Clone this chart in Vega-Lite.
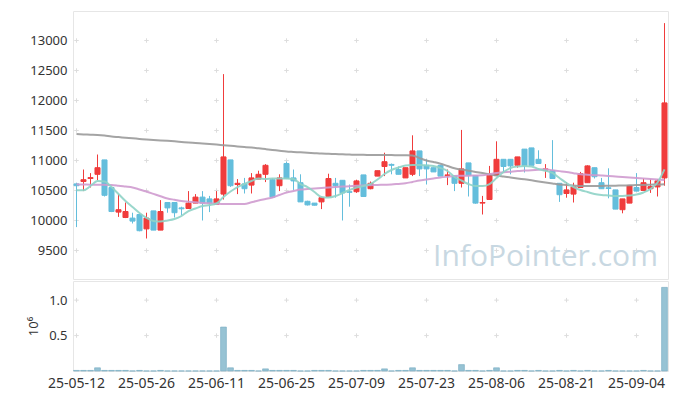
{
  "$schema": "https://vega.github.io/schema/vega-lite/v6.json",
  "background": "white",
  "padding": {"left": 27, "top": 10, "right": 9, "bottom": 5},
  "spacing": 0,
  "config": {
    "font": "Noto Sans",
    "view": {"stroke": "#e6e6e6"},
    "axis": {"labelColor": "#333333", "labelFontSize": 13, "labelFont": "Noto Sans", "grid": false, "domain": false, "ticks": false, "labelOverlap": false}
  },
  "datasets": {
    "ohlc": [
      {"d":"25-05-12","o":10610,"h":10630,"l":9890,"c":10580,"v":8000,"m5":10503,"m20":10603,"m60":11440},
      {"d":"25-05-13","o":10650,"h":10850,"l":10490,"c":10680,"v":8000,"m5":10503,"m20":10600,"m60":11435},
      {"d":"25-05-14","o":10700,"h":10790,"l":10550,"c":10715,"v":8000,"m5":10575,"m20":10598,"m60":11430},
      {"d":"25-05-15","o":10770,"h":11100,"l":10670,"c":10880,"v":45000,"m5":10658,"m20":10596,"m60":11425},
      {"d":"25-05-16","o":11010,"h":11010,"l":10400,"c":10420,"v":8000,"m5":10650,"m20":10594,"m60":11415},
      {"d":"25-05-19","o":10550,"h":10560,"l":10140,"c":10150,"v":8000,"m5":10558,"m20":10592,"m60":11400},
      {"d":"25-05-20","o":10140,"h":10440,"l":10060,"c":10180,"v":8000,"m5":10442,"m20":10580,"m60":11390},
      {"d":"25-05-21","o":10050,"h":10300,"l":10040,"c":10150,"v":8000,"m5":10325,"m20":10565,"m60":11380},
      {"d":"25-05-22","o":10040,"h":10130,"l":9950,"c":9990,"v":1000,"m5":10225,"m20":10550,"m60":11370},
      {"d":"25-05-23","o":10100,"h":10110,"l":9820,"c":9830,"v":8000,"m5":10125,"m20":10517,"m60":11360},
      {"d":"25-05-26","o":9860,"h":10130,"l":9700,"c":10040,"v":1000,"m5":10042,"m20":10483,"m60":11350},
      {"d":"25-05-27","o":10160,"h":10160,"l":9840,"c":9840,"v":1000,"m5":9992,"m20":10444,"m60":11342},
      {"d":"25-05-28","o":9840,"h":10340,"l":9840,"c":10150,"v":8000,"m5":9983,"m20":10405,"m60":11335},
      {"d":"25-05-29","o":10300,"h":10300,"l":10130,"c":10210,"v":1000,"m5":10000,"m20":10367,"m60":11328},
      {"d":"25-05-30","o":10300,"h":10300,"l":10050,"c":10130,"v":1000,"m5":10025,"m20":10346,"m60":11320},
      {"d":"25-06-02","o":10210,"h":10230,"l":10090,"c":10195,"v":1000,"m5":10075,"m20":10325,"m60":11310},
      {"d":"25-06-04","o":10200,"h":10490,"l":10200,"c":10290,"v":1000,"m5":10158,"m20":10314,"m60":11300},
      {"d":"25-06-05","o":10290,"h":10440,"l":10290,"c":10390,"v":1000,"m5":10200,"m20":10303,"m60":11292},
      {"d":"25-06-09","o":10390,"h":10490,"l":10000,"c":10290,"v":1000,"m5":10242,"m20":10292,"m60":11283},
      {"d":"25-06-10","o":10360,"h":10410,"l":10140,"c":10290,"v":1000,"m5":10258,"m20":10286,"m60":11274},
      {"d":"25-06-11","o":10270,"h":10490,"l":10270,"c":10360,"v":1000,"m5":10283,"m20":10280,"m60":11265},
      {"d":"25-06-12","o":10440,"h":12440,"l":10350,"c":11060,"v":620000,"m5":10392,"m20":10275,"m60":11255},
      {"d":"25-06-13","o":11010,"h":11010,"l":10560,"c":10580,"v":45000,"m5":10483,"m20":10275,"m60":11245},
      {"d":"25-06-16","o":10600,"h":10690,"l":10440,"c":10620,"v":8000,"m5":10558,"m20":10275,"m60":11235},
      {"d":"25-06-17","o":10610,"h":10710,"l":10450,"c":10530,"v":8000,"m5":10608,"m20":10275,"m60":11225},
      {"d":"25-06-18","o":10590,"h":10790,"l":10450,"c":10710,"v":8000,"m5":10658,"m20":10304,"m60":11215},
      {"d":"25-06-19","o":10690,"h":10830,"l":10690,"c":10770,"v":1000,"m5":10700,"m20":10333,"m60":11203},
      {"d":"25-06-20","o":10770,"h":10940,"l":10640,"c":10920,"v":30000,"m5":10692,"m20":10358,"m60":11190},
      {"d":"25-06-23","o":10680,"h":10700,"l":10380,"c":10390,"v":8000,"m5":10700,"m20":10383,"m60":11177},
      {"d":"25-06-24","o":10580,"h":10770,"l":10490,"c":10710,"v":8000,"m5":10700,"m20":10425,"m60":11163},
      {"d":"25-06-25","o":10950,"h":10980,"l":10690,"c":10700,"v":8000,"m5":10700,"m20":10467,"m60":11150},
      {"d":"25-06-26","o":10710,"h":10850,"l":10510,"c":10660,"v":8000,"m5":10692,"m20":10492,"m60":11143},
      {"d":"25-06-27","o":10630,"h":10770,"l":10310,"c":10310,"v":1000,"m5":10608,"m20":10517,"m60":11136},
      {"d":"25-06-30","o":10320,"h":10330,"l":10250,"c":10260,"v":1000,"m5":10558,"m20":10525,"m60":11129},
      {"d":"25-07-01","o":10290,"h":10290,"l":10250,"c":10255,"v":8000,"m5":10475,"m20":10534,"m60":11122},
      {"d":"25-07-02","o":10310,"h":10400,"l":10190,"c":10380,"v":8000,"m5":10392,"m20":10542,"m60":11115},
      {"d":"25-07-03","o":10400,"h":10780,"l":10400,"c":10700,"v":8000,"m5":10383,"m20":10550,"m60":11111},
      {"d":"25-07-04","o":10620,"h":10710,"l":10380,"c":10580,"v":1000,"m5":10408,"m20":10557,"m60":11107},
      {"d":"25-07-07","o":10670,"h":10670,"l":10000,"c":10460,"v":1000,"m5":10458,"m20":10565,"m60":11103},
      {"d":"25-07-08","o":10480,"h":10600,"l":10230,"c":10470,"v":1000,"m5":10508,"m20":10572,"m60":11099},
      {"d":"25-07-09","o":10480,"h":10680,"l":10460,"c":10660,"v":1000,"m5":10550,"m20":10580,"m60":11095},
      {"d":"25-07-10","o":10760,"h":10760,"l":10400,"c":10400,"v":8000,"m5":10575,"m20":10584,"m60":11094},
      {"d":"25-07-11","o":10530,"h":10650,"l":10520,"c":10620,"v":8000,"m5":10608,"m20":10588,"m60":11093},
      {"d":"25-07-14","o":10740,"h":10830,"l":10740,"c":10830,"v":8000,"m5":10683,"m20":10592,"m60":11092},
      {"d":"25-07-15","o":10900,"h":11130,"l":10740,"c":10980,"v":30000,"m5":10775,"m20":10596,"m60":11091},
      {"d":"25-07-16","o":10935,"h":10950,"l":10770,"c":10920,"v":1000,"m5":10842,"m20":10600,"m60":11090},
      {"d":"25-07-17","o":10850,"h":10900,"l":10770,"c":10770,"v":8000,"m5":10883,"m20":10610,"m60":11088},
      {"d":"25-07-18","o":10710,"h":10880,"l":10710,"c":10880,"v":8000,"m5":10917,"m20":10620,"m60":11087},
      {"d":"25-07-21","o":10770,"h":11420,"l":10740,"c":11160,"v":45000,"m5":10925,"m20":10643,"m60":11085},
      {"d":"25-07-22","o":11160,"h":11160,"l":10740,"c":10860,"v":8000,"m5":10925,"m20":10667,"m60":11040},
      {"d":"25-07-23","o":10920,"h":11020,"l":10600,"c":10860,"v":8000,"m5":10917,"m20":10684,"m60":11000},
      {"d":"25-07-24","o":10880,"h":10880,"l":10810,"c":10810,"v":8000,"m5":10908,"m20":10700,"m60":10975},
      {"d":"25-07-25","o":10920,"h":10920,"l":10740,"c":10740,"v":8000,"m5":10875,"m20":10717,"m60":10947},
      {"d":"25-07-28","o":10750,"h":10850,"l":10590,"c":10760,"v":8000,"m5":10825,"m20":10730,"m60":10908},
      {"d":"25-07-29","o":10740,"h":10740,"l":10490,"c":10620,"v":1000,"m5":10725,"m20":10742,"m60":10870},
      {"d":"25-07-30","o":10620,"h":11510,"l":10550,"c":10860,"v":90000,"m5":10667,"m20":10745,"m60":10850},
      {"d":"25-07-31","o":10960,"h":10960,"l":10400,"c":10750,"v":8000,"m5":10608,"m20":10747,"m60":10830},
      {"d":"25-08-01","o":10750,"h":10750,"l":10280,"c":10290,"v":8000,"m5":10575,"m20":10750,"m60":10810},
      {"d":"25-08-04","o":10290,"h":10410,"l":10100,"c":10300,"v":1000,"m5":10575,"m20":10753,"m60":10790},
      {"d":"25-08-05","o":10350,"h":10910,"l":10350,"c":10760,"v":8000,"m5":10608,"m20":10772,"m60":10770},
      {"d":"25-08-06","o":10750,"h":11320,"l":10750,"c":11020,"v":45000,"m5":10708,"m20":10792,"m60":10750},
      {"d":"25-08-07","o":11020,"h":11020,"l":10800,"c":10900,"v":1000,"m5":10808,"m20":10803,"m60":10734},
      {"d":"25-08-08","o":11020,"h":11020,"l":10770,"c":10910,"v":1000,"m5":10875,"m20":10814,"m60":10718},
      {"d":"25-08-11","o":10920,"h":11060,"l":10880,"c":11060,"v":8000,"m5":10900,"m20":10825,"m60":10702},
      {"d":"25-08-12","o":11190,"h":11190,"l":10800,"c":10920,"v":8000,"m5":10908,"m20":10832,"m60":10686},
      {"d":"25-08-13","o":11210,"h":11210,"l":10920,"c":10920,"v":1000,"m5":10900,"m20":10839,"m60":10670},
      {"d":"25-08-14","o":11020,"h":11170,"l":10950,"c":10950,"v":8000,"m5":10858,"m20":10846,"m60":10652},
      {"d":"25-08-18","o":10840,"h":10940,"l":10710,"c":10860,"v":1000,"m5":10830,"m20":10853,"m60":10635},
      {"d":"25-08-19","o":10830,"h":11340,"l":10700,"c":10700,"v":1000,"m5":10792,"m20":10838,"m60":10617},
      {"d":"25-08-20","o":10620,"h":10620,"l":10310,"c":10430,"v":8000,"m5":10708,"m20":10823,"m60":10600},
      {"d":"25-08-21","o":10450,"h":10640,"l":10380,"c":10510,"v":1000,"m5":10625,"m20":10808,"m60":10592},
      {"d":"25-08-22","o":10440,"h":10630,"l":10300,"c":10560,"v":8000,"m5":10558,"m20":10789,"m60":10583},
      {"d":"25-08-25","o":10550,"h":10810,"l":10550,"c":10780,"v":1000,"m5":10508,"m20":10770,"m60":10575},
      {"d":"25-08-26","o":10630,"h":10920,"l":10630,"c":10910,"v":8000,"m5":10475,"m20":10763,"m60":10575},
      {"d":"25-08-27","o":10880,"h":10880,"l":10700,"c":10730,"v":1000,"m5":10442,"m20":10756,"m60":10576},
      {"d":"25-08-28","o":10630,"h":10710,"l":10530,"c":10530,"v":1000,"m5":10425,"m20":10749,"m60":10577},
      {"d":"25-08-29","o":10545,"h":10870,"l":10370,"c":10535,"v":8000,"m5":10417,"m20":10742,"m60":10578},
      {"d":"25-09-01","o":10510,"h":10510,"l":10190,"c":10190,"v":1000,"m5":10408,"m20":10733,"m60":10581},
      {"d":"25-09-02","o":10180,"h":10360,"l":10120,"c":10360,"v":1000,"m5":10408,"m20":10724,"m60":10584},
      {"d":"25-09-03","o":10290,"h":10580,"l":10290,"c":10580,"v":1000,"m5":10417,"m20":10716,"m60":10587},
      {"d":"25-09-04","o":10550,"h":10790,"l":10490,"c":10490,"v":1000,"m5":10433,"m20":10708,"m60":10590},
      {"d":"25-09-05","o":10500,"h":10700,"l":10500,"c":10630,"v":8000,"m5":10467,"m20":10700,"m60":10593},
      {"d":"25-09-08","o":10530,"h":10690,"l":10460,"c":10565,"v":1000,"m5":10525,"m20":10692,"m60":10597},
      {"d":"25-09-09","o":10560,"h":10690,"l":10400,"c":10660,"v":1000,"m5":10633,"m20":10684,"m60":10600},
      {"d":"25-09-10","o":10710,"h":13290,"l":10580,"c":11960,"v":1180000,"m5":10853,"m20":10676,"m60":10603}
    ],
    "gridp": [
      {"d":"25-05-12","p":[9500,10000,10500,11000,11500,12000,12500,13000]},
      {"d":"25-05-26","p":[9500,10000,10500,11000,11500,12000,12500,13000]},
      {"d":"25-06-11","p":[9500,10000,10500,11000,11500,12000,12500,13000]},
      {"d":"25-06-25","p":[9500,10000,10500,11000,11500,12000,12500,13000]},
      {"d":"25-07-09","p":[9500,10000,10500,11000,11500,12000,12500,13000]},
      {"d":"25-07-23","p":[9500,10000,10500,11000,11500,12000,12500,13000]},
      {"d":"25-08-06","p":[9500,10000,10500,11000,11500,12000,12500,13000]},
      {"d":"25-08-21","p":[9500,10000,10500,11000,11500,12000,12500,13000]},
      {"d":"25-09-04","p":[9500,10000,10500,11000,11500,12000,12500,13000]}
    ],
    "gridv": [
      {"d":"25-05-12","p":[500000,1000000]},
      {"d":"25-05-26","p":[500000,1000000]},
      {"d":"25-06-11","p":[500000,1000000]},
      {"d":"25-06-25","p":[500000,1000000]},
      {"d":"25-07-09","p":[500000,1000000]},
      {"d":"25-07-23","p":[500000,1000000]},
      {"d":"25-08-06","p":[500000,1000000]},
      {"d":"25-08-21","p":[500000,1000000]},
      {"d":"25-09-04","p":[500000,1000000]}
    ]
  },
  "vconcat": [
    {
      "width": 595,
      "height": 268,
      "data": {"name": "ohlc"},
      "encoding": {
        "x": {"field": "d", "type": "ordinal", "scale": {"paddingInner": 0.28, "paddingOuter": 0.14}, "axis": null},
        "y": {"type": "quantitative", "scale": {"domain": [9025, 13492], "nice": false, "zero": false},
          "axis": {"values": [9500,10000,10500,11000,11500,12000,12500,13000], "format": "d", "title": null, "labelPadding": 6, "labelOverlap": false, "labelBound": false, "labelFlush": false}}
      },
      "layer": [
        {
          "data": {"name": "gridp"},
          "transform": [{"flatten": ["p"]}],
          "mark": {"type": "point", "shape": "M-1,0H1M0,-1V1", "size": 20, "filled": false, "stroke": "#dddddd", "strokeWidth": 1, "opacity": 1},
          "encoding": {"y": {"field": "p"}}
        },
        {
          "mark": {"type": "rule", "strokeWidth": 1},
          "encoding": {
            "y": {"field": "l"},
            "y2": {"field": "h"},
            "color": {"condition": {"test": "datum.c >= datum.o", "value": "#f03c3c"}, "value": "#64bedc"}
          }
        },
        {
          "mark": {"type": "bar", "strokeWidth": 1},
          "encoding": {
            "y": {"field": "o"},
            "y2": {"field": "c"},
            "fill": {"condition": {"test": "datum.c >= datum.o", "value": "#f03c3c"}, "value": "#64bedc"},
            "stroke": {"condition": {"test": "datum.c >= datum.o", "value": "#f03c3c"}, "value": "#64bedc"}
          }
        },
        {
          "mark": {"type": "line", "interpolate": "monotone", "strokeWidth": 2, "color": "#9a9a9a", "opacity": 0.9},
          "encoding": {"y": {"field": "m60"}}
        },
        {
          "mark": {"type": "line", "interpolate": "monotone", "strokeWidth": 2, "color": "#cf9bcf", "opacity": 0.9},
          "encoding": {"y": {"field": "m20"}}
        },
        {
          "mark": {"type": "line", "interpolate": "monotone", "strokeWidth": 2, "color": "#8fd3c6", "opacity": 0.9},
          "encoding": {"y": {"field": "m5"}}
        },
        {
          "data": {"values": [{"label": "InfoPointer.com"}]},
          "mark": {"type": "text", "font": "Open Sans", "fontSize": 30, "color": "#c8d8e2", "align": "center", "baseline": "middle"},
          "encoding": {
            "x": {"datum": "25-08-18"},
            "y": {"datum": 9400},
            "text": {"field": "label"}
          }
        }
      ]
    },
    {
      "width": 595,
      "height": 90,
      "data": {"name": "ohlc"},
      "encoding": {
        "x": {"field": "d", "type": "ordinal", "scale": {"paddingInner": 0.28, "paddingOuter": 0.14},
          "axis": {"values": ["25-05-12","25-05-26","25-06-11","25-06-25","25-07-09","25-07-23","25-08-06","25-08-21","25-09-04"], "title": null, "labelAngle": 0, "labelPadding": 5, "labelFontSize": 14}}
      },
      "layer": [
        {
          "data": {"name": "gridv"},
          "transform": [{"flatten": ["p"]}],
          "mark": {"type": "point", "shape": "M-1,0H1M0,-1V1", "size": 20, "filled": false, "stroke": "#dddddd", "strokeWidth": 1, "opacity": 1},
          "encoding": {
            "y": {"field": "p", "type": "quantitative", "scale": {"domain": [0, 1270000], "nice": false},
              "axis": {"values": [500000, 1000000], "labelExpr": "format(datum.value / 1000000, '.1f')", "title": "10⁶", "titleFontWeight": "normal", "titleFontSize": 13, "titleColor": "#333333", "titlePadding": 8, "labelPadding": 6}}
          }
        },
        {
          "mark": {"type": "bar", "color": "#97c3d4", "stroke": "#72a7bf", "strokeWidth": 0.6, "width": {"band": 1.15}},
          "encoding": {"y": {"field": "v", "type": "quantitative"}}
        }
      ]
    }
  ]
}
